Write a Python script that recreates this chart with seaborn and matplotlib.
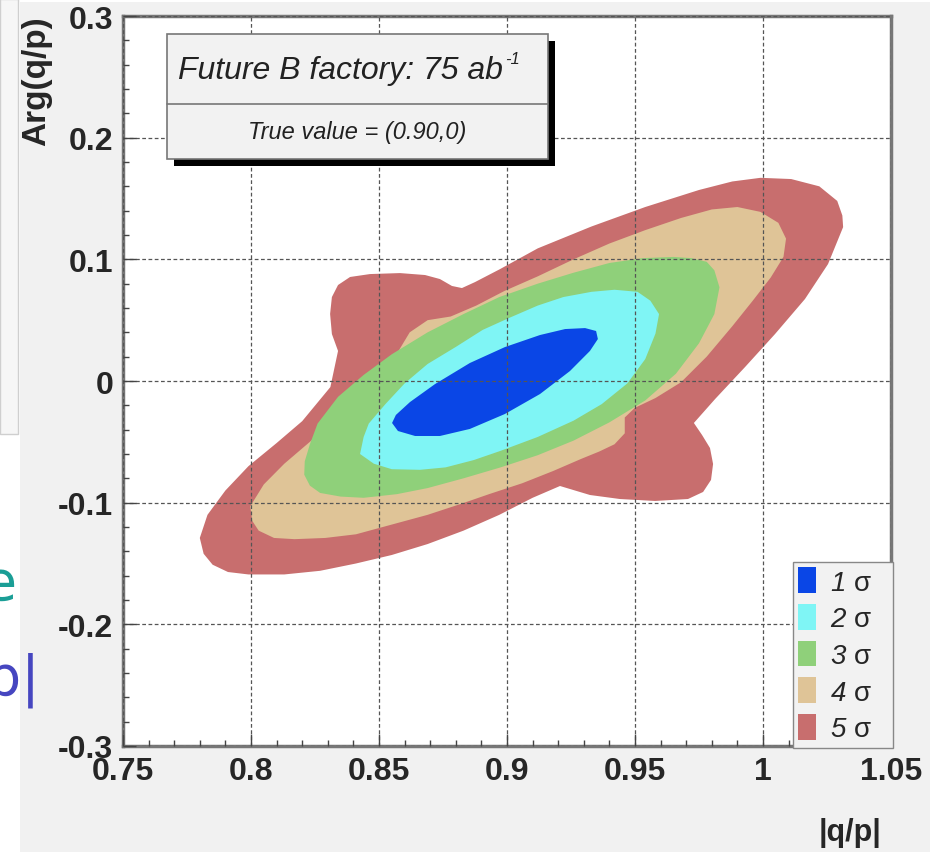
import numpy as np
import pandas as pd
import matplotlib.pyplot as plt
import seaborn as sns
from matplotlib.patches import Patch, Rectangle

# contour outlines (|q/p|, Arg(q/p))
s1_x = [0.8551, 0.8574, 0.8641, 0.8738, 0.8855, 0.8992, 0.9129, 0.9246, 0.9324, 0.9355,
        0.9348, 0.9305, 0.9227, 0.9129, 0.8992, 0.8855, 0.8719, 0.8621, 0.8566]
s1_y = [-0.0345, -0.0411, -0.0452, -0.0452, -0.0394, -0.0271, -0.0107, 0.0082, 0.0247, 0.0345,
        0.0411, 0.0435, 0.0427, 0.0378, 0.0279, 0.0148, -0.0025, -0.0173, -0.0279]

s2_x = [0.8426, 0.848, 0.855, 0.866, 0.876, 0.887, 0.8975, 0.912, 0.926, 0.937,
        0.947, 0.954, 0.958, 0.9594, 0.956, 0.951, 0.942, 0.933, 0.922, 0.912,
        0.901, 0.8905, 0.880, 0.869, 0.860, 0.8525, 0.846, 0.844]
s2_y = [-0.060, -0.068, -0.0725, -0.073, -0.071, -0.065, -0.0574, -0.046, -0.0326, -0.019,
        -0.002, 0.018, 0.039, 0.055, 0.066, 0.0733, 0.075, 0.0733, 0.069, 0.062,
        0.052, 0.042, 0.028, 0.014, -0.002, -0.019, -0.035, -0.046]

s3_x = [0.8208, 0.823, 0.827, 0.835, 0.844, 0.857, 0.869, 0.883, 0.8975, 0.912,
        0.926, 0.940, 0.954, 0.966, 0.975, 0.981, 0.983, 0.981, 0.978, 0.972,
        0.965, 0.953, 0.940, 0.926, 0.912, 0.897, 0.883, 0.869, 0.855, 0.844,
        0.834, 0.826, 0.823, 0.821]
s3_y = [-0.077, -0.086, -0.092, -0.095, -0.096, -0.093, -0.088, -0.080, -0.071, -0.061,
        -0.049, -0.034, -0.016, 0.006, 0.031, 0.055, 0.077, 0.091, 0.098, 0.101,
        0.102, 0.101, 0.097, 0.089, 0.080, 0.069, 0.055, 0.040, 0.022, 0.005,
        -0.013, -0.035, -0.052, -0.066]

s4_x = [0.7997, 0.8005, 0.803, 0.809, 0.817, 0.829, 0.841, 0.855, 0.869, 0.882,
        0.893, 0.906, 0.918, 0.929, 0.936, 0.942, 0.946, 0.946, 0.950, 0.958,
        0.968, 0.978, 0.988, 0.996, 1.003, 1.008, 1.009, 1.006, 0.999, 0.990,
        0.980, 0.968, 0.954, 0.940, 0.926, 0.912, 0.899, 0.888, 0.878, 0.869,
        0.862, 0.858, 0.855, 0.845, 0.834, 0.823, 0.813, 0.805]
s4_y = [-0.103, -0.115, -0.123, -0.129, -0.130, -0.129, -0.126, -0.118, -0.110, -0.101,
        -0.093, -0.084, -0.074, -0.064, -0.058, -0.052, -0.043, -0.030, -0.022, -0.014,
        -0.001, 0.020, 0.045, 0.066, 0.085, 0.102, 0.117, 0.130, 0.139, 0.143,
        0.141, 0.134, 0.124, 0.113, 0.100, 0.086, 0.074, 0.062, 0.053, 0.050,
        0.040, 0.026, 0.014, -0.008, -0.030, -0.050, -0.068, -0.085]

s5_x = [0.780, 0.7815, 0.785, 0.791, 0.799, 0.813, 0.827, 0.841, 0.855, 0.869,
        0.883, 0.897, 0.910, 0.9207, 0.9324, 0.9441, 0.9578, 0.9707, 0.9766, 0.9797,
        0.9805, 0.9793, 0.9762, 0.9730, 0.9813, 0.9930, 1.0047, 1.0164, 1.0254, 1.0313,
        1.031, 1.029, 1.022, 1.011, 0.999, 0.988, 0.975, 0.954, 0.933, 0.912,
        0.8973, 0.8875, 0.8824, 0.8785, 0.8738, 0.8680, 0.8582, 0.8465, 0.8387, 0.8340,
        0.8316, 0.8309, 0.8316, 0.8340, 0.831, 0.820, 0.810, 0.799, 0.790, 0.783]
s5_y = [-0.129, -0.142, -0.151, -0.157, -0.159, -0.159, -0.156, -0.150, -0.143, -0.134,
        -0.123, -0.110, -0.096, -0.0863, -0.0937, -0.0970, -0.0986, -0.0970, -0.0912, -0.0813,
        -0.0682, -0.0551, -0.0444, -0.0345, -0.0148, 0.0115, 0.0386, 0.0674, 0.0961, 0.1265,
        0.136, 0.148, 0.160, 0.166, 0.167, 0.164, 0.157, 0.143, 0.127, 0.109,
        0.0920, 0.0813, 0.0764, 0.0781, 0.0838, 0.0871, 0.0887, 0.0879, 0.0855, 0.0789,
        0.0690, 0.0551, 0.0386, 0.0247, -0.005, -0.033, -0.051, -0.070, -0.090, -0.110]

sigma_labels = ['1', '2', '3', '4', '5']
sigma_colors = ['#0a46e6', '#7ff5f5', '#8fd07a', '#dfc497', '#c86e6e']

x_ticks = [0.75, 0.8, 0.85, 0.9, 0.95, 1.0, 1.05]
x_ticklabels = ['0.75', '0.8', '0.85', '0.9', '0.95', '1', '1.05']
y_ticks = [-0.3, -0.2, -0.1, 0.0, 0.1, 0.2, 0.3]
y_ticklabels = ['-0.3', '-0.2', '-0.1', '0', '0.1', '0.2', '0.3']

sns.set_theme(style='ticks')
plt.rcParams['font.family'] = ['Liberation Sans', 'DejaVu Sans']
plt.rcParams['mathtext.fontset'] = 'custom'
plt.rcParams['mathtext.rm'] = 'Liberation Sans'
plt.rcParams['mathtext.it'] = 'Liberation Sans:italic'

W, H = 940, 853


def fx(px):
    return px / W


def fy(py):
    return 1 - py / H


fig = plt.figure(figsize=(W / 100, H / 100), dpi=100, facecolor='white')

# screenshot background pieces
fig.add_artist(Rectangle((fx(20), 0), fx(930) - fx(20), fy(3), transform=fig.transFigure,
                         facecolor='#f1f1f1', edgecolor='none', zorder=0))
fig.add_artist(Rectangle((0, fy(435)), fx(18), fy(0) - fy(435), transform=fig.transFigure,
                         facecolor='#f6f6f6', edgecolor='#cfcfcf', lw=1, zorder=0))
fig.text(fx(17), fy(585), 'e', color='#1a9e96', fontsize=40, ha='right', va='center',
         family=['DejaVu Sans'])
fig.text(fx(40), fy(680), 'p|', color='#4646c0', fontsize=40, ha='right', va='center',
         family=['DejaVu Sans'])

ax = fig.add_axes([fx(123), fy(747), fx(891) - fx(123), fy(17) - fy(747)])
ax.set_facecolor('white')

outlines = [(s5_x, s5_y), (s4_x, s4_y), (s3_x, s3_y), (s2_x, s2_y), (s1_x, s1_y)]
for (xs, ys), c in zip(outlines, sigma_colors[::-1]):
    ax.fill(xs, ys, color=c, lw=0, zorder=1)

ax.set_xlim(0.75, 1.05)
ax.set_ylim(-0.3, 0.3)
ax.set_xticks(x_ticks)
ax.set_xticklabels(x_ticklabels, fontsize=23, fontweight='bold')
ax.set_yticks(y_ticks)
ax.set_yticklabels(y_ticklabels, fontsize=23, fontweight='bold')
ax.set_xticks(np.arange(0.75, 1.0501, 0.01), minor=True)
ax.set_yticks(np.arange(-0.3, 0.3001, 0.02), minor=True)
ax.tick_params(which='major', direction='in', length=9, width=1, color='#444', pad=7)
ax.tick_params(which='minor', direction='in', length=4.5, width=1, color='#444')
ax.set_axisbelow(False)
ax.grid(True, which='major', color='#555', lw=0.9, ls=(0, (3, 2)))
for sp in ax.spines.values():
    sp.set_color('#777')
    sp.set_linewidth(2.5)

fig.text(fx(37), fy(16), 'Arg(q/p)', rotation=90, ha='center', va='top',
         fontsize=24, fontweight='bold')
fig.text(fx(881), fy(833), '|q/p|', ha='right', va='center', fontsize=22, fontweight='bold')

# title box with shadow
fig.add_artist(Rectangle((fx(174), fy(167)), fx(548) - fx(167), fy(35) - fy(160),
                         transform=fig.transFigure, facecolor='black', edgecolor='none', zorder=5))
fig.add_artist(Rectangle((fx(167), fy(160)), fx(548) - fx(167), fy(35) - fy(160),
                         transform=fig.transFigure, facecolor='#f2f2f2', edgecolor='#777',
                         lw=1.2, zorder=6))
fig.add_artist(plt.Line2D([fx(167), fx(548)], [fy(105), fy(105)], transform=fig.transFigure,
                          color='#777', lw=1.2, zorder=7))
fig.text(fx(178), fy(71), 'Future B factory: 75 ab', ha='left', va='center',
         fontsize=23, style='italic', color='#222', zorder=8)
fig.text(fx(505), fy(59), '-1', ha='left', va='center',
         fontsize=12, style='italic', color='#222', zorder=8)
fig.text(fx(357), fy(132), 'True value = (0.90,0)', ha='center', va='center',
         fontsize=17, style='italic', color='#222', zorder=8)

handles = [Patch(facecolor=c, edgecolor='none') for c in sigma_colors]
labels = [r'%s $\mathrm{\sigma}$   ' % s for s in sigma_labels]
leg = ax.legend(handles, labels, loc='lower right', bbox_to_anchor=(fx(893), fy(749)),
                bbox_transform=fig.transFigure, borderaxespad=0, fancybox=False,
                framealpha=1, facecolor='#f2f2f2', edgecolor='#888',
                prop={'size': 20, 'style': 'italic'}, handlelength=0.62, handleheight=1.05,
                handletextpad=0.5, labelspacing=0.3, borderpad=0.2)
leg.set_zorder(10)

fig.savefig('out.png', dpi=100, facecolor=fig.get_facecolor())
